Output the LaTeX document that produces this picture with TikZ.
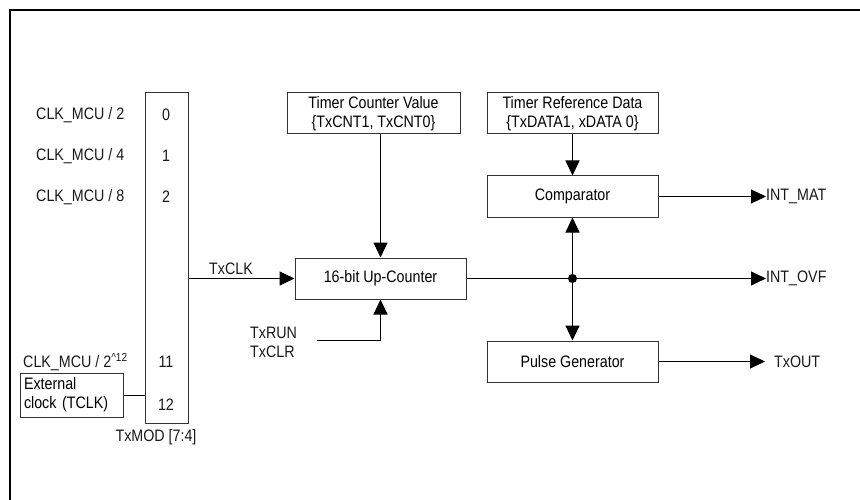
\documentclass[tikz,border=0pt]{standalone}
\usepackage{fontspec}
\setmainfont[FakeStretch=0.86]{Liberation Sans}
\usetikzlibrary{arrows.meta,calc}
\tikzset{
  box/.style={draw=black!80, line width=1pt, fill=white, inner sep=0pt, align=center, font=\fontsize{16.6}{19}\selectfont},
  lbl/.style={inner sep=0pt, text=black!90, font=\fontsize{16.6}{19}\selectfont},
  arr/.style={line width=1pt, -{Triangle[length=15pt,width=14pt]}},
  wire/.style={line width=1pt},
}
\begin{document}
\begin{tikzpicture}[x=1pt,y=-1pt]
\useasboundingbox (0,0) rectangle (860,500);
% frame (open at right and bottom, cut by screenshot)
\draw[line width=2pt] (10,500) -- (10,10) -- (860,10);

% mux
\node[box, minimum width=43pt, minimum height=330pt] (mux) at (166.5,258) {};
\node[lbl] (n0) at (166,115) {0};
\node[lbl] (n1) at (166,156) {1};
\node[lbl] (n2) at (166,197) {2};
\node[lbl] (n11) at (166,362) {11};
\node[lbl] (n12) at (166,405) {12};
\node[lbl] (txmod) at (156,437) {TxMOD [7:4]};

% clock inputs
\node[lbl, anchor=west] (c2) at (36,115) {CLK\_MCU / 2};
\node[lbl, anchor=west] (c4) at (36,156) {CLK\_MCU / 4};
\node[lbl, anchor=west] (c8) at (36,197) {CLK\_MCU / 8};
\node[lbl, anchor=west] (c12) at (23,362) {CLK\_MCU / 2\textsuperscript{\^{}12}};
\node[box, minimum width=103pt, minimum height=44pt, align=left, text width=95pt] (ext) at (71.5,395) {External\\clock (TCLK)};
\draw[wire] (ext.east) -- (ext.east -| mux.west);

% counter and registers
\node[box, minimum width=171pt, minimum height=41pt] (cnt) at (380.5,278.5) {16-bit Up-Counter};
\node[box, minimum width=173pt, minimum height=41pt] (tcv) at (373.5,113.5) {Timer Counter Value\\\{TxCNT1, TxCNT0\}};
\node[box, minimum width=171pt, minimum height=41pt] (trd) at (572.5,113.5) {Timer Reference Data\\\{TxDATA1, xDATA 0\}};
\node[box, minimum width=171pt, minimum height=41pt] (cmp) at (572.5,196.5) {Comparator};
\node[box, minimum width=171pt, minimum height=41pt] (pg) at (572.5,361.5) {Pulse Generator};

% TxCLK
\draw[arr] (mux.east |- cnt.west) -- (cnt.west);
\node[lbl] (txclk) at (231,269) {TxCLK};

% counter value -> counter
\draw[arr] (tcv.south -| cnt.north) -- (cnt.north);

% TxRUN / TxCLR
\node[lbl, anchor=west] (run) at (250,333) {TxRUN};
\node[lbl, anchor=west] (clr) at (250,352) {TxCLR};
\coordinate (runend) at (317,340);
\draw[arr] (runend) -| (cnt.south);

% reference data -> comparator
\draw[arr] (trd.south) -- (cmp.north);

% overflow bus
\coordinate (j) at (cmp.south |- cnt.east);
\node[lbl, anchor=west] (ovf) at (766,278.5) {INT\_OVF};
\draw[arr] (cnt.east) -- (ovf.west);
\fill (j) circle (4.5pt);
\draw[arr] (j) -- (cmp.south);
\draw[arr] (j) -- (pg.north);

% outputs
\node[lbl, anchor=west] (mat) at (766,196.5) {INT\_MAT};
\draw[arr] (cmp.east) -- (mat.west);
\node[lbl, anchor=west] (txout) at (774,361.5) {TxOUT};
\coordinate (outend) at (765,361.5);
\draw[arr] (pg.east) -- (outend);
\end{tikzpicture}
\end{document}
